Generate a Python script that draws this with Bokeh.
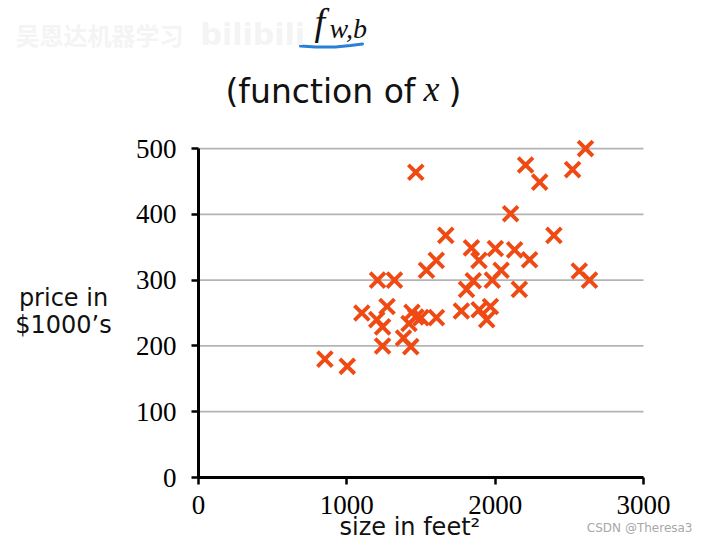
from bokeh.plotting import figure
from bokeh.models import Range1d, FixedTicker, Label, LinearAxis
from bokeh.embed import file_html
from bokeh.resources import INLINE

# ---- data ----
size_sqft = [852, 1003, 1101, 1207, 1321, 1271, 1202, 1241, 1241, 1382,
             1431, 1439, 1419, 1465, 1500, 1604, 1465, 1667, 1603, 1537,
             1772, 1807, 1852, 1840, 1891, 2001, 1981, 2040, 2131, 2232,
             2163, 2104, 2396, 2205, 2300, 2522, 2609, 2567, 2636, 1892,
             1968, 1943]
price_k = [180, 169, 250, 300, 300, 260, 240, 229, 200, 212,
           199, 251, 234, 244, 243, 243, 464, 368, 330, 315,
           253, 286, 299, 349, 330, 348, 300, 315, 346, 331,
           286, 401, 368, 475, 449, 468, 500, 314, 300, 255,
           260, 240]
x_ticks = [0, 1000, 2000, 3000]
y_ticks = [0, 100, 200, 300, 400, 500]

# pixel mapping of the reference chart area
SX = 445 / 3000      # px per sqft
SY = 348 / 529       # px per $1000
X0, Y0 = 198, 477    # pixel position of the origin

p = figure(width=707, height=540, output_backend="svg", toolbar_location=None,
           x_range=Range1d(-X0 / SX, (707 - X0) / SX),
           y_range=Range1d((Y0 - 540) / SY, Y0 / SY),
           x_axis_location=None, y_axis_location=None,
           min_border=0, min_border_left=0, min_border_right=0,
           min_border_top=0, min_border_bottom=0)
p.outline_line_color = None
p.background_fill_color = "white"
p.border_fill_color = "white"
p.grid.visible = False

# horizontal grid lines from 0 to 3000
p.segment(x0=[x_ticks[0]] * len(y_ticks), x1=[x_ticks[-1]] * len(y_ticks),
          y0=y_ticks, y1=y_ticks, line_color="#b4b4b4", line_width=1.8)

xaxis = LinearAxis(fixed_location=0, ticker=FixedTicker(ticks=x_ticks), bounds=(0, 3000))
yaxis = LinearAxis(fixed_location=0, ticker=FixedTicker(ticks=y_ticks), bounds=(0, 500))
for ax in (xaxis, yaxis):
    ax.axis_line_color = "black"
    ax.axis_line_width = 3
    ax.major_tick_line_color = "black"
    ax.major_tick_line_width = 2.5
    ax.major_tick_in = 0
    ax.major_tick_out = 7
    ax.minor_tick_line_color = None
    ax.major_label_text_font = "Liberation Serif"
    ax.major_label_text_font_size = "27px"
    ax.major_label_text_color = "black"
yaxis.major_label_standoff = 15
xaxis.major_label_standoff = 11
p.add_layout(xaxis, "below")
p.add_layout(yaxis, "left")

p.scatter(size_sqft, price_k, marker="x", size=21, line_width=3.9,
          line_color="#f04a14")

def px_x(px):
    return (px - X0) / SX

def px_y(py):
    return (Y0 - py) / SY

def lab(text, px, py, size, font="DejaVu Sans", style="normal", color="#111111",
        align="left"):
    p.add_layout(Label(x=px_x(px), y=px_y(py), text=text, text_font=font,
                       text_font_size=size, text_font_style=style,
                       text_color=color, text_align=align,
                       text_baseline="middle"))

# y axis title
lab("price in", 63, 297, "24px", align="center")
lab("$1000\u2019s", 63, 324, "24px", align="center")

# title "(function of x)"
lab("(function of", 225, 91, "33px")
lab("x", 423, 88, "36px", font="Liberation Serif", style="italic")
lab(")", 448, 91, "33px")

# f_{w,b} with blue underline
lab("f", 314, 21, "38px", font="Liberation Serif", style="italic")
lab("w,b", 329, 28, "28px", font="Liberation Serif", style="italic")
p.line(x=[px_x(300), px_x(315), px_x(335), px_x(350), px_x(362)],
       y=[px_y(45.5), px_y(46.5), px_y(46.5), px_y(45), px_y(43.5)],
       line_color="#2a80d6", line_width=3, line_cap="round")

# faint watermarks
lab("吴恩达机器学习", 15, 34, "24px", font="Noto Sans CJK SC", style="bold", color="#f4f4f4")
lab("bilibili", 200, 34, "30px", font="DejaVu Sans", style="bold", color="#f4f4f4")

# x axis title (at the bottom edge)
lab("size in feet\u00b2", 339, 526, "24px")

# CSDN watermark
lab("CSDN @Theresa3", 692, 527, "12px", color="#a8a8a8", align="right")

open("out.html", "w").write(file_html(p, INLINE))
